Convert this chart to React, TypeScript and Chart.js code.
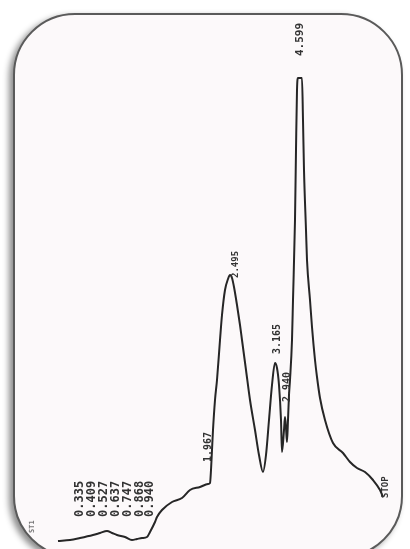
import React, { useEffect, useRef } from "react";
import { Chart, registerables } from "chart.js";

Chart.register(...registerables);

// Retention time (min, arbitrary linear axis) and detector signal (mV)
const retention = [
  0.0, 0.24, 0.44, 0.7, 0.84, 0.98, 1.08, 1.18, 1.34, 1.48, 1.58, 1.68, 1.78, 1.84, 1.94, 1.98,
  2.08, 2.28, 2.48, 2.64, 2.84, 3.0, 3.04, 3.06, 3.08, 3.1, 3.14, 3.18, 3.24, 3.28, 3.34, 3.4,
  3.44, 3.48, 3.52, 3.58, 3.64, 3.68, 3.76, 3.84, 3.94, 4.02, 4.1, 4.16, 4.22, 4.28, 4.34, 4.38,
  4.42, 4.46, 4.48, 4.52, 4.54, 4.56, 4.58, 4.6, 4.62, 4.64, 4.68, 4.7, 4.74, 4.76, 4.78, 4.8,
  4.88, 4.9, 4.92, 4.96, 4.98, 5.04, 5.08, 5.14, 5.18, 5.24, 5.34, 5.5, 5.7, 5.84, 5.98, 6.14,
  6.3, 6.44, 6.5,
];
const signal = [
  1.6, 1.8, 2.2, 2.8, 3.2, 3.6, 3.2, 2.8, 2.4, 1.8, 2.0, 2.2, 2.4, 3.4, 5.4, 6.4,
  7.8, 9.4, 10.2, 11.8, 12.4, 13.0, 13.2, 15.8, 19.8, 23.8, 29.8, 33.8, 41.8, 46.8, 51.8, 54.0,
  54.8, 54.2, 52.4, 48.8, 44.8, 41.8, 35.8, 29.8, 23.8, 18.8, 15.4, 18.8, 25.8, 32.8, 37.2, 36.2,
  32.8, 25.8, 19.4, 23.8, 26.4, 24.2, 21.4, 25.8, 30.8, 33.8, 41.8, 49.8, 65.8, 79.8, 91.8, 94.2,
  94.2, 85.8, 75.8, 63.8, 57.8, 49.8, 44.4, 37.8, 34.4, 30.2, 25.8, 21.2, 19.2, 17.4, 16.2, 15.4,
  13.8, 11.8, 10.4,
];

// Printed annotations (text, retention time, signal level where the text starts)
const labelTexts = [
  "0.335", "0.409", "0.527", "0.637", "0.747", "0.868", "0.940",
  "1.967", "2.495", "3.165", "2.940", "4.599", "STOP", "ST1",
];
const labelTimes = [0.44, 0.68, 0.92, 1.16, 1.4, 1.64, 1.84, 3.0, 3.56, 4.38, 4.58, 4.84, 6.56, -0.52];
const labelLevels = [6.4, 6.4, 6.4, 6.4, 6.4, 6.4, 6.4, 17.4, 54.2, 39.0, 29.4, 98.6, 10.2, 3.2];

// styling
const labelFontPx = [12, 12, 12, 12, 12, 12, 12, 10, 9, 10, 10, 11, 9, 7];

const labelPlugin = {
  id: "peakLabels",
  afterDatasetsDraw(chart: any) {
    const { ctx, scales } = chart;
    labelTexts.forEach((txt, i) => {
      const x = scales.x.getPixelForValue(labelTimes[i]);
      const y = scales.y.getPixelForValue(labelLevels[i]);
      ctx.save();
      ctx.translate(x, y);
      ctx.rotate(-Math.PI / 2);
      ctx.font = `bold ${labelFontPx[i]}px "DejaVu Sans Mono", monospace`;
      ctx.fillStyle = i === labelTexts.length - 1 ? "#777" : "#333333";
      ctx.textAlign = "left";
      ctx.textBaseline = "middle";
      ctx.fillText(txt, 0, 0);
      ctx.restore();
    });
  },
};

export default function App() {
  const ref = useRef<HTMLCanvasElement | null>(null);
  useEffect(() => {
    if (!ref.current) return;
    const chart = new Chart(ref.current, {
      type: "line",
      data: {
        datasets: [
          {
            data: retention.map((t, i) => ({ x: t, y: signal[i] })),
            borderColor: "#262626",
            borderWidth: 2,
            pointRadius: 0,
            cubicInterpolationMode: "monotone",
            fill: false,
          },
        ],
      },
      options: {
        animation: false,
        responsive: false,
        layout: { padding: 0 },
        plugins: { legend: { display: false }, tooltip: { enabled: false } },
        scales: {
          x: { type: "linear", display: false, min: -1.16, max: 7.04 },
          y: { type: "linear", display: false, min: 0, max: 109.8 },
        },
      },
      plugins: [labelPlugin],
    });
    return () => chart.destroy();
  }, []);

  return (
    <div
      style={{
        position: "fixed",
        left: 0,
        top: 0,
        width: 410,
        height: 549,
        overflow: "hidden",
        background: "#ffffff",
      }}
    >
      <div
        style={{
          position: "absolute",
          left: 13,
          top: 13,
          width: 386,
          height: 541,
          border: "2px solid #5a5a5a",
          borderRadius: 62,
          background: "#fcf9fa",
          boxShadow: "-4px 3px 6px rgba(0,0,0,0.45)",
        }}
      />
      <canvas
        ref={ref}
        width={410}
        height={549}
        style={{ position: "absolute", left: 0, top: 0, width: 410, height: 549 }}
      />
    </div>
  );
}
